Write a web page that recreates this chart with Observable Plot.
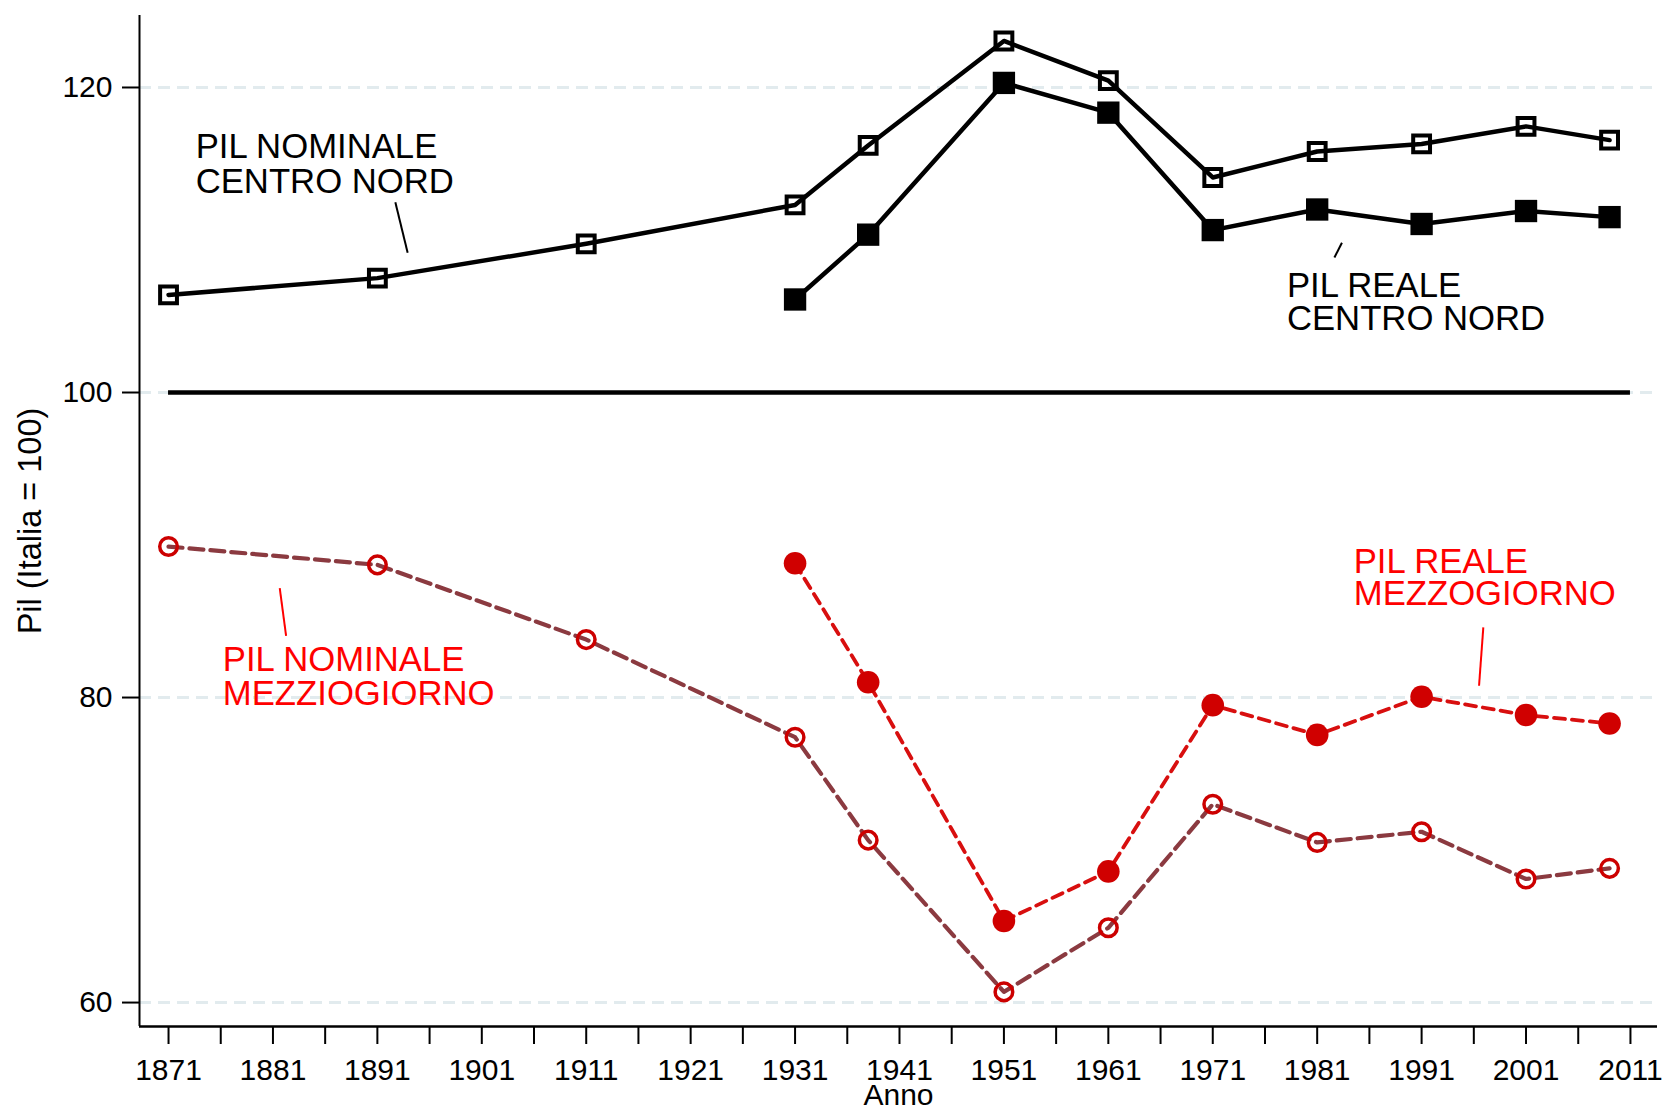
<!DOCTYPE html>
<html>
<head>
<meta charset="utf-8">
<script src="https://cdn.jsdelivr.net/npm/d3@7"></script>
<script src="https://cdn.jsdelivr.net/npm/@observablehq/plot@0.6"></script>
<style>
  html, body { margin: 0; padding: 0; background: #fff; }
</style>
</head>
<body>
<div id="chart"></div>
<script>
// ---- data ----
const years = [1871, 1891, 1911, 1931, 1938, 1951, 1961, 1971, 1981, 1991, 2001, 2009];
const realYears = [1931, 1938, 1951, 1961, 1971, 1981, 1991, 2001, 2009];
const nominaleCentroNord = [106.4, 107.5, 109.75, 112.3, 116.2, 123.05, 120.45, 114.1, 115.8, 116.3, 117.45, 116.55];
const realeCentroNord = [106.1, 110.35, 120.3, 118.35, 110.65, 112.0, 111.05, 111.9, 111.5];
const nominaleMezzogiorno = [89.9, 88.7, 83.8, 77.4, 70.65, 60.7, 64.9, 73.0, 70.5, 71.2, 68.1, 68.8];
const realeMezzogiorno = [88.8, 81.0, 65.35, 68.6, 79.5, 77.55, 80.05, 78.85, 78.3];
const xTicks = d3.range(1871, 2012, 5);
const xTickLabels = d3.range(1871, 2012, 10);
const yTicks = [60, 80, 100, 120];
const labels = {
  ncn: "PIL NOMINALE\nCENTRO NORD",
  rcn: "PIL REALE\nCENTRO NORD",
  nmz: "PIL NOMINALE\nMEZZIOGIORNO",
  rmz: "PIL REALE\nMEZZOGIORNO",
  yTitle: "Pil (Italia = 100)",
  xTitle: "Anno"
};

const ncn = years.map((x, i) => ({x, y: nominaleCentroNord[i]}));
const nmz = years.map((x, i) => ({x, y: nominaleMezzogiorno[i]}));
const rcn = realYears.map((x, i) => ({x, y: realeCentroNord[i]}));
const rmz = realYears.map((x, i) => ({x, y: realeMezzogiorno[i]}));

const xDomain = [1868.22, 2013.59];
const yDomain = [58.43, 124.72];

const chart = Plot.plot({
  width: 1666,
  height: 1111,
  marginLeft: 139,
  marginRight: 9,
  marginTop: 15,
  marginBottom: 85,
  style: {fontFamily: "'Liberation Sans', Arial, Helvetica, sans-serif", background: "white", color: "black"},
  x: {type: "linear", domain: xDomain},
  y: {type: "linear", domain: yDomain},
  marks: [
    Plot.gridY(yTicks, {stroke: "#e2ebee", strokeOpacity: 1, strokeWidth: 3, strokeDasharray: "12,7"}),
    Plot.ruleY([100], {x1: 1871, x2: 2011, stroke: "black", strokeWidth: 4.5}),
    Plot.ruleX([xDomain[0]], {stroke: "black", strokeWidth: 2}),
    Plot.ruleY([yDomain[0]], {stroke: "black", strokeWidth: 2.5}),
    Plot.axisX({
      ticks: xTicks, tickSize: 18, tickPadding: 14, strokeWidth: 2,
      tickFormat: d => xTickLabels.includes(d) ? String(d) : "",
      fontSize: 30, label: null
    }),
    Plot.axisY({ticks: yTicks, tickSize: 17, tickPadding: 10, strokeWidth: 2, fontSize: 30, label: null}),
    // Centro Nord
    Plot.line(ncn, {x: "x", y: "y", stroke: "black", strokeWidth: 4.5}),
    Plot.dot(ncn, {x: "x", y: "y", symbol: "square", r: 9.5, fill: "none", stroke: "black", strokeWidth: 4}),
    Plot.line(rcn, {x: "x", y: "y", stroke: "black", strokeWidth: 4.5}),
    Plot.dot(rcn, {x: "x", y: "y", symbol: "square", r: 12.6, fill: "black"}),
    // Mezzogiorno
    Plot.line(nmz, {x: "x", y: "y", stroke: "#8b3a40", strokeWidth: 4.2, strokeDasharray: "14,7"}),
    Plot.dot(nmz, {x: "x", y: "y", r: 8.8, fill: "none", stroke: "#cc0000", strokeWidth: 3.5}),
    Plot.line(rmz, {x: "x", y: "y", stroke: "#d80f0f", strokeWidth: 3.8, strokeDasharray: "11,7"}),
    Plot.dot(rmz, {x: "x", y: "y", r: 11.3, fill: "#d00000"}),
    // annotations
    Plot.text([labels.ncn], {x: 1873.6, y: 113.11, textAnchor: "start", lineAnchor: "bottom", lineHeight: 1.0, fontSize: 34.7, fill: "black"}),
    Plot.link([0], {x1: 1892.72, y1: 112.48, x2: 1893.9, y2: 109.16, stroke: "black", strokeWidth: 2}),
    Plot.text([labels.rcn], {x: 1978.1, y: 104.07, textAnchor: "start", lineAnchor: "bottom", lineHeight: 0.95, fontSize: 34.7, fill: "black"}),
    Plot.link([0], {x1: 1983.37, y1: 109.82, x2: 1982.65, y2: 108.85, stroke: "black", strokeWidth: 2}),
    Plot.text([labels.nmz], {x: 1876.2, y: 79.54, textAnchor: "start", lineAnchor: "bottom", lineHeight: 0.98, fontSize: 34.7, fill: "#ff0000"}),
    Plot.link([0], {x1: 1881.65, y1: 87.17, x2: 1882.26, y2: 84.04, stroke: "#ff0000", strokeWidth: 2}),
    Plot.text([labels.rmz], {x: 1984.5, y: 86.1, textAnchor: "start", lineAnchor: "bottom", lineHeight: 0.92, fontSize: 34.7, fill: "#ff0000"}),
    Plot.link([0], {x1: 1996.91, y1: 84.6, x2: 1996.5, y2: 80.77, stroke: "#ff0000", strokeWidth: 2}),
    // axis titles
    Plot.text([labels.yTitle], {frameAnchor: "left", dx: -109, rotate: -90, textAnchor: "middle", lineAnchor: "middle", fontSize: 32.5, fill: "black"}),
    Plot.text([labels.xTitle], {frameAnchor: "bottom", dy: 69, textAnchor: "middle", lineAnchor: "middle", fontSize: 30, fill: "black"})
  ]
});
document.getElementById("chart").appendChild(chart);
</script>
</body>
</html>
